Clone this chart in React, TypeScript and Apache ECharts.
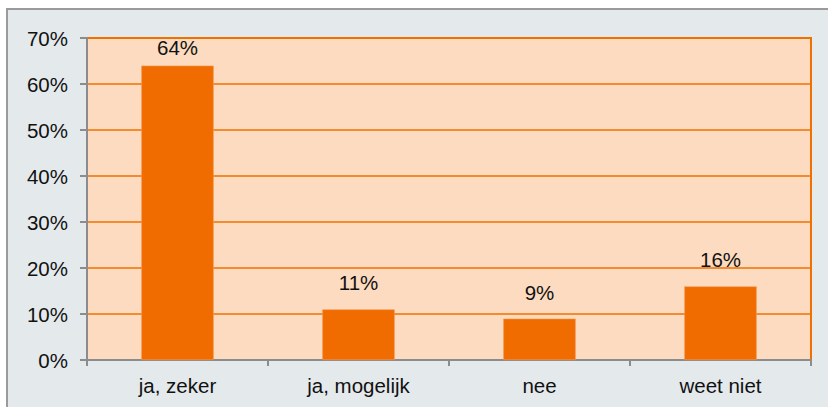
import React, { useEffect, useRef } from "react";
import * as echarts from "echarts";

const categories = ["ja, zeker", "ja, mogelijk", "nee", "weet niet"];
const values = [64, 11, 9, 16];
const labelDistances = [8, 16, 16, 16];
const yTicks = { min: 0, max: 70, interval: 10 };

export default function App() {
  const ref = useRef<HTMLDivElement>(null);
  useEffect(() => {
    document.body.style.margin = "0";
    const chart = echarts.init(ref.current!, undefined, { renderer: "svg" });
    const font = "'Liberation Sans', Arial, Helvetica, sans-serif";
    chart.setOption({
      animation: false,
      backgroundColor: "#ffffff",
      graphic: [
        {
          type: "rect",
          z: -10,
          shape: { x: 7, y: 9, width: 900, height: 500 },
          style: { fill: "#e4e9ec", stroke: "#9a9a9a", lineWidth: 2 },
          silent: true,
        },
      ],
      grid: {
        left: 87,
        top: 38,
        right: 17,
        bottom: 47,
        show: true,
        backgroundColor: "#fcdbc0",
        borderColor: "#f07000",
        borderWidth: 2,
      },
      xAxis: {
        type: "category",
        data: categories,
        axisLine: { lineStyle: { color: "#8c8c8c", width: 2 } },
        axisTick: { show: true, length: 6, lineStyle: { color: "#8c8c8c", width: 2 } },
        axisLabel: { color: "#111", fontSize: 20.5, fontFamily: font, margin: 15 },
      },
      yAxis: {
        type: "value",
        min: yTicks.min,
        max: yTicks.max,
        interval: yTicks.interval,
        axisLine: { show: true, lineStyle: { color: "#8c8c8c", width: 2 } },
        axisTick: { show: true, length: 7, lineStyle: { color: "#8c8c8c", width: 2 } },
        axisLabel: {
          color: "#111",
          fontSize: 20.5,
          fontFamily: font,
          margin: 19,
          formatter: (v: number) => v + "%",
        },
        splitLine: { show: true, lineStyle: { color: "#f07000", width: 1.5 } },
      },
      series: [
        {
          type: "bar",
          barWidth: "40%",
          data: values.map((v, i) => ({
            value: v,
            label: { distance: labelDistances[i] },
          })),
          itemStyle: { color: "#f06c00", borderColor: "#f59a55", borderWidth: 0.6 },
          label: {
            show: true,
            position: "top",
            color: "#111",
            fontSize: 20.5,
            fontFamily: font,
            formatter: (p: any) => p.value + "%",
          },
        },
      ],
    });
    return () => chart.dispose();
  }, []);
  return <div ref={ref} style={{ width: 828, height: 407 }} />;
}
